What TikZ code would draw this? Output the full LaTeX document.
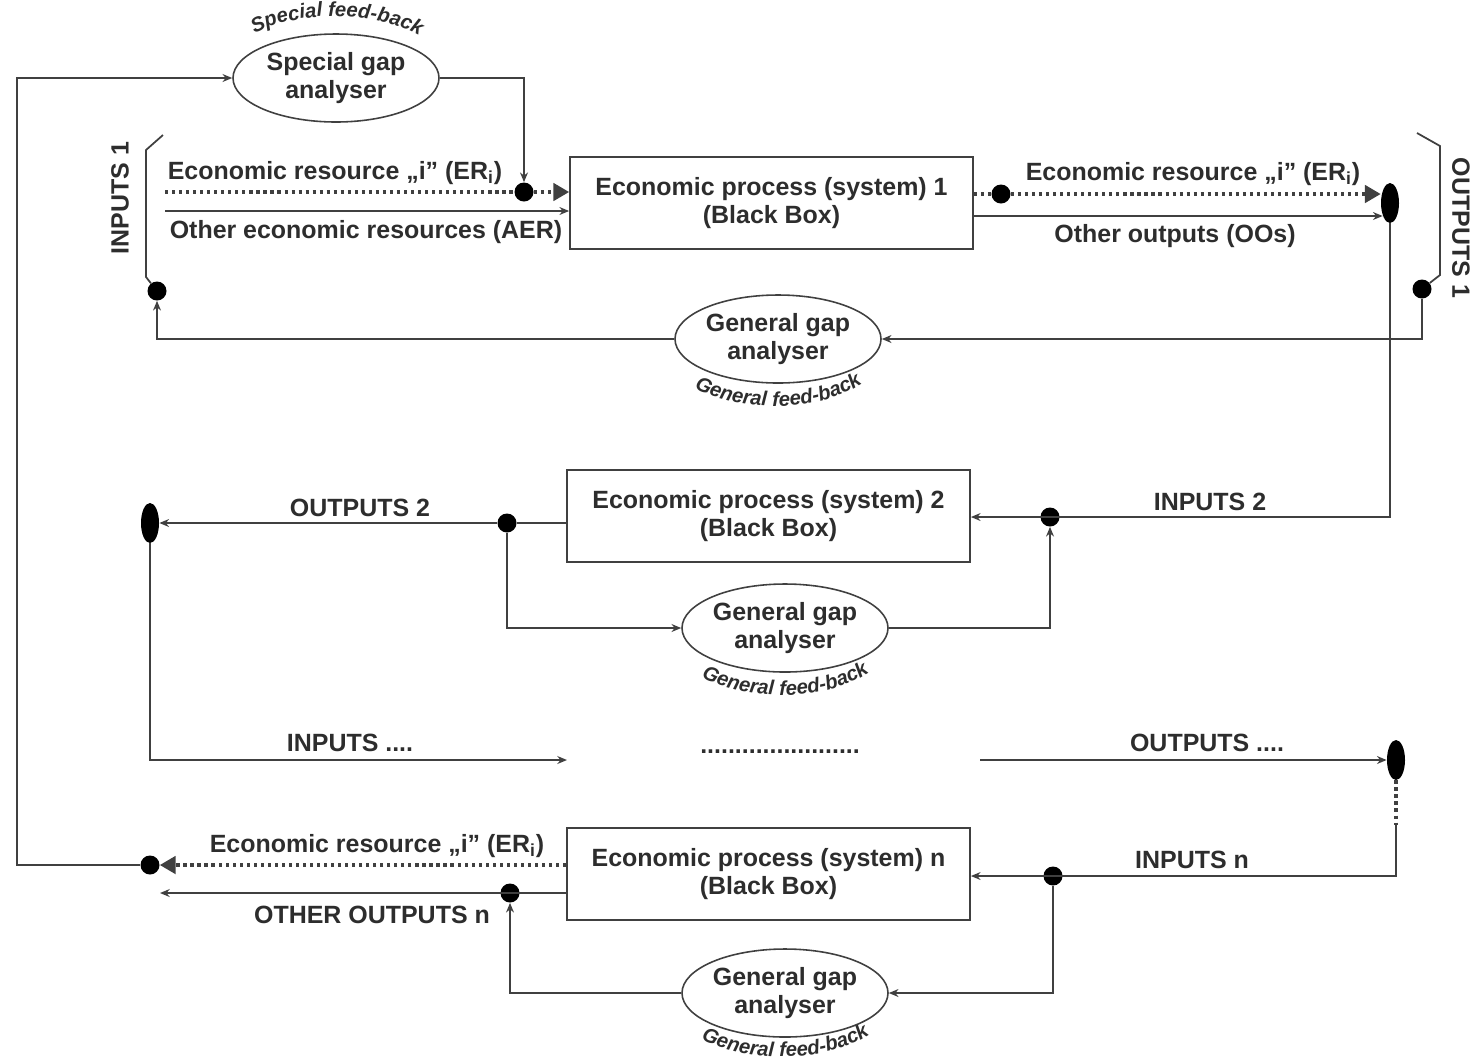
\documentclass[tikz,border=0pt]{standalone}
\usepackage{fontspec}
\setmainfont{Liberation Sans}
\usepackage{xcolor}
\usepackage{tikz}
\usetikzlibrary{shapes.geometric, arrows.meta, positioning, calc, decorations.text}
\definecolor{lgray}{RGB}{64, 64, 64}
\definecolor{tgray}{RGB}{45, 45, 45}
\newcommand{\mainfnt}{\fontsize{14.2}{16}\selectfont\bfseries}
\newcommand{\fbfont}{\fontsize{11.5}{12}\selectfont\bfseries\itshape}

\begin{document}
\begin{tikzpicture}[x=0.2mm, y=-0.2mm,
    flow/.style={draw=lgray, line width=1pt},
    tip/.style={-{Stealth[length=5.5pt, width=4.5pt]}},
    bigtip/.style={-{Triangle[length=9pt, width=10pt]}},
    erline/.style={draw=lgray, line width=1.8pt, dash pattern=on 1.8pt off 2.2pt},
    procbox/.style={draw=lgray, line width=1pt, fill=white, minimum width=80.6mm, minimum height=18.4mm, align=center, font=\mainfnt, text=tgray},
    gapoval/.style={ellipse, draw=lgray, line width=0.9pt, fill=white, minimum width=41.2mm, minimum height=17.6mm, inner sep=0pt, align=center, font=\mainfnt, text=tgray},
    jdot/.style={circle, fill=black, inner sep=0pt, minimum size=3.8mm},
    joval/.style={ellipse, fill=black, inner sep=0pt, minimum width=3.6mm, minimum height=8mm},
    lbl/.style={font=\mainfnt, text=tgray, inner sep=1pt},
    feedback/.style={decorate, decoration={text along path, text align=center, text color=tgray, text={|\fbfont|#1}}}]
    \useasboundingbox (0,0) rectangle (1470,1063);

    % Process 1
    \node[procbox] (box1) at (771.5,203) {Economic process (system) 1\\(Black Box)};
    \node[gapoval] (sga) at (336,78) {Special gap\\analyser};
    \node[gapoval] (gga1) at (778,339) {General gap\\analyser};
    \path[feedback={Special feed-back}] (245,40) .. controls (288,8) and (384,8) .. (429,42);
    \path[feedback={General feed-back}] (686,383) .. controls (733,415) and (827,415) .. (870,377);

    \node[jdot] (d1) at (524,192) {};
    \node[jdot] (dIn1) at (157,291) {};
    \node[jdot] (dEO1) at (1001,194) {};
    \node[jdot] (dOut1) at (1422,289) {};
    \node[joval] (joval1) at (1390,203) {};

    \coordinate (erIn) at (165,192);
    \coordinate (aerIn) at (165,211);
    \draw[erline] (erIn) -- (d1);
    \draw[erline, bigtip] (d1) -- (box1.west |- d1);
    \draw[flow, tip] (aerIn) -- (box1.west |- aerIn);
    \draw[flow, tip] (sga.east) -| (d1);
    \draw[erline] (box1.east |- dEO1) -- (dEO1);
    \draw[erline, bigtip] (dEO1) -- ($(joval1.west)+(0,-9)$);
    \draw[flow, tip] ($(box1.east)+(0,13)$) -- ($(joval1.west)+(2,13)$);
    \draw[flow, tip] (dOut1) |- (gga1.east);
    \draw[flow, tip] (gga1.west) -| (dIn1);

    \node[lbl] (lblER1) at (335,173) {Economic resource „i” (ER\textsubscript{i})};
    \node[lbl] (lblAER) at (366,232) {Other economic resources (AER)};
    \node[lbl] (lblER2) at (1193,174) {Economic resource „i” (ER\textsubscript{i})};
    \node[lbl] (lblOOs) at (1175,236) {Other outputs (OOs)};

    % brackets of inputs 1 and outputs 1
    \coordinate (inA) at (163,135);
    \coordinate (inB) at (146,150);
    \coordinate (inC) at (146,277);
    \draw[flow] (inA) -- (inB) -- (inC) -- (dIn1);
    \coordinate (outA) at (1417,133);
    \coordinate (outB) at (1440,146);
    \coordinate (outC) at (1440,275);
    \draw[flow] (outA) -- (outB) -- (outC) -- (dOut1);
    \node[lbl, rotate=90] (lblIn1) at (120,198) {INPUTS 1};
    \node[lbl, rotate=-90] (lblOut1) at (1461,228) {OUTPUTS 1};

    % Process 2
    \node[procbox] (box2) at (768.5,516) {Economic process (system) 2\\(Black Box)};
    \node[gapoval] (gga2) at (785,628) {General gap\\analyser};
    \path[feedback={General feed-back}] (693,672) .. controls (740,704) and (834,704) .. (877,666);
    \node[jdot] (dIn2) at (1050,517) {};
    \node[jdot] (dOut2) at (507,523) {};
    \node[joval] (joval2) at (150,523) {};

    \draw[flow, tip] (joval1.south) |- (box2.east |- dIn2);
    \draw[flow] (box2.west |- dOut2) -- (dOut2);
    \draw[flow, tip] (dOut2) -- (joval2);
    \draw[flow, tip] (dOut2) |- (gga2.west);
    \draw[flow, tip] (gga2.east) -| (dIn2);
    \node[lbl] (lblIn2) at (1210,502) {INPUTS 2};
    \node[lbl] (lblOut2) at (360,508) {OUTPUTS 2};

    % the processes in between
    \node[joval] (joval3) at (1396,760) {};
    \coordinate (inEnd) at (567,760);
    \coordinate (outStart) at (980,760);
    \draw[flow, tip] (joval2.south) |- (inEnd);
    \draw[flow, tip] (outStart) -- (joval3);
    \node[lbl] (gapdots) at (780,752) {.......................};
    \node[lbl] (lblInDots) at (350,743) {INPUTS ....};
    \node[lbl] (lblOutDots) at (1207,743) {OUTPUTS ....};

    % Process n
    \node[procbox] (boxN) at (768.5,874) {Economic process (system) n\\(Black Box)};
    \node[gapoval] (gga3) at (785,993) {General gap\\analyser};
    \path[feedback={General feed-back}] (693,1035) .. controls (740,1065) and (834,1065) .. (877,1029);
    \node[jdot] (dInN) at (1053,876) {};
    \node[jdot] (dOutN) at (510,893) {};
    \node[jdot] (dERN) at (150,865) {};

    \coordinate (vBreak) at (1396,825);
    \draw[erline] (joval3.south) -- (vBreak);
    \draw[flow, tip] (vBreak) |- (boxN.east |- dInN);
    \draw[flow, tip] (dInN) |- (gga3.east);
    \draw[flow, tip] (gga3.west) -| (dOutN);
    \coordinate (oonEnd) at (160,893);
    \draw[flow, tip] (boxN.west |- dOutN) -- (oonEnd);
    \draw[erline, bigtip] (boxN.west |- dERN) -- (dERN);
    \node[lbl] (lblInN) at (1192,860) {INPUTS n};
    \node[lbl] (lblERn) at (377,846) {Economic resource „i” (ER\textsubscript{i})};
    \node[lbl] (lblOOn) at (372,915) {OTHER OUTPUTS n};

    % special feed-back loop
    \coordinate (loopB) at (17,865);
    \coordinate (loopT) at (17,78);
    \draw[flow, tip] (dERN) -- (loopB) -- (loopT) -- (sga);
\end{tikzpicture}
\end{document}
